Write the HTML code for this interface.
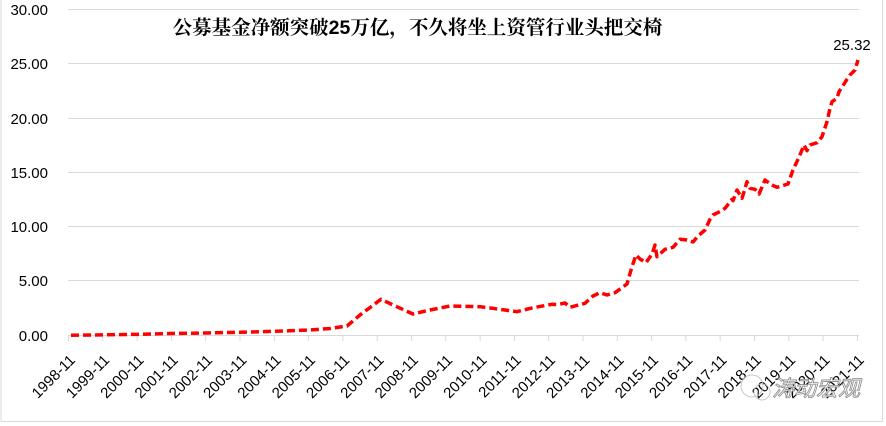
<!DOCTYPE html>
<html><head><meta charset="utf-8"><style>
html,body{margin:0;padding:0;background:#fff;}
svg{display:block;}
</style></head><body>
<svg width="886" height="426" viewBox="0 0 886 426" xmlns="http://www.w3.org/2000/svg">
<rect x="0" y="0" width="886" height="426" fill="#fff"/>
<!-- border -->
<line x1="1" y1="0" x2="1" y2="421.5" stroke="#d9d9d9" stroke-width="1"/>
<line x1="882.5" y1="0" x2="882.5" y2="421.5" stroke="#d9d9d9" stroke-width="1"/>
<line x1="1" y1="421.5" x2="882.5" y2="421.5" stroke="#d9d9d9" stroke-width="1"/>
<!-- gridlines -->
<g stroke="#d9d9d9" stroke-width="1">
<line x1="68" y1="9.5" x2="859" y2="9.5"/>
<line x1="68" y1="63.5" x2="859" y2="63.5"/>
<line x1="68" y1="118.5" x2="859" y2="118.5"/>
<line x1="68" y1="172.5" x2="859" y2="172.5"/>
<line x1="68" y1="226.5" x2="859" y2="226.5"/>
<line x1="68" y1="280.5" x2="859" y2="280.5"/>
<line x1="68" y1="335.5" x2="859" y2="335.5"/>
</g>
<!-- ticks -->
<g stroke="#d9d9d9" stroke-width="1">
<line x1="68.5" y1="335.5" x2="68.5" y2="341"/>
<line x1="102.8" y1="335.5" x2="102.8" y2="341"/>
<line x1="137.1" y1="335.5" x2="137.1" y2="341"/>
<line x1="171.4" y1="335.5" x2="171.4" y2="341"/>
<line x1="205.7" y1="335.5" x2="205.7" y2="341"/>
<line x1="240" y1="335.5" x2="240" y2="341"/>
<line x1="274.3" y1="335.5" x2="274.3" y2="341"/>
<line x1="308.6" y1="335.5" x2="308.6" y2="341"/>
<line x1="342.9" y1="335.5" x2="342.9" y2="341"/>
<line x1="377.2" y1="335.5" x2="377.2" y2="341"/>
<line x1="411.5" y1="335.5" x2="411.5" y2="341"/>
<line x1="445.8" y1="335.5" x2="445.8" y2="341"/>
<line x1="480.1" y1="335.5" x2="480.1" y2="341"/>
<line x1="514.4" y1="335.5" x2="514.4" y2="341"/>
<line x1="548.7" y1="335.5" x2="548.7" y2="341"/>
<line x1="583" y1="335.5" x2="583" y2="341"/>
<line x1="617.3" y1="335.5" x2="617.3" y2="341"/>
<line x1="651.6" y1="335.5" x2="651.6" y2="341"/>
<line x1="685.9" y1="335.5" x2="685.9" y2="341"/>
<line x1="720.2" y1="335.5" x2="720.2" y2="341"/>
<line x1="754.5" y1="335.5" x2="754.5" y2="341"/>
<line x1="788.8" y1="335.5" x2="788.8" y2="341"/>
<line x1="823.1" y1="335.5" x2="823.1" y2="341"/>
<line x1="857.4" y1="335.5" x2="857.4" y2="341"/>
</g>
<!-- y labels -->
<g font-family="'Liberation Sans', sans-serif" font-size="15" fill="#000" text-anchor="end">
<text x="48" y="15">30.00</text>
<text x="48" y="69">25.00</text>
<text x="48" y="124">20.00</text>
<text x="48" y="178">15.00</text>
<text x="48" y="232">10.00</text>
<text x="48" y="286">5.00</text>
<text x="48" y="341">0.00</text>
</g>
<!-- x labels -->
<g font-family="'Liberation Sans', sans-serif" font-size="15" fill="#000" text-anchor="end">
<text transform="translate(76,361) rotate(-45)">1998-11</text>
<text transform="translate(110.3,361) rotate(-45)">1999-11</text>
<text transform="translate(144.6,361) rotate(-45)">2000-11</text>
<text transform="translate(178.9,361) rotate(-45)">2001-11</text>
<text transform="translate(213.2,361) rotate(-45)">2002-11</text>
<text transform="translate(247.5,361) rotate(-45)">2003-11</text>
<text transform="translate(281.8,361) rotate(-45)">2004-11</text>
<text transform="translate(316.1,361) rotate(-45)">2005-11</text>
<text transform="translate(350.4,361) rotate(-45)">2006-11</text>
<text transform="translate(384.7,361) rotate(-45)">2007-11</text>
<text transform="translate(419,361) rotate(-45)">2008-11</text>
<text transform="translate(453.3,361) rotate(-45)">2009-11</text>
<text transform="translate(487.6,361) rotate(-45)">2010-11</text>
<text transform="translate(521.9,361) rotate(-45)">2011-11</text>
<text transform="translate(556.2,361) rotate(-45)">2012-11</text>
<text transform="translate(590.5,361) rotate(-45)">2013-11</text>
<text transform="translate(624.8,361) rotate(-45)">2014-11</text>
<text transform="translate(659.1,361) rotate(-45)">2015-11</text>
<text transform="translate(693.4,361) rotate(-45)">2016-11</text>
<text transform="translate(727.7,361) rotate(-45)">2017-11</text>
<text transform="translate(762,361) rotate(-45)">2018-11</text>
<text transform="translate(796.3,361) rotate(-45)">2019-11</text>
<text transform="translate(830.6,361) rotate(-45)">2020-11</text>
<text transform="translate(864.9,361) rotate(-45)">2021-11</text>
</g>
<!-- title -->
<text x="417.5" y="34" text-anchor="middle" font-family="'Noto Serif CJK SC',serif" font-weight="bold" font-size="19.5" fill="#000">公募基金净额突破<tspan font-family="'Liberation Sans',sans-serif">25</tspan>万亿，不久将坐上资管行业头把交椅</text>
<!-- series -->
<polyline fill="none" stroke="#ff0000" stroke-width="3.5" stroke-dasharray="8 4" stroke-linejoin="round"
points="71,335.2 100,334.9 140,334.3 170,333.5 205,333 240,332.3 275,331.3 310,330 330,328.5 347,326 360,315 381,299.3 393,305 413,314 430,310 450,306 480,306.7 500,309.3 517,311.7 533,307.7 552,304.3 558,304.5 565,303 570,307.3 585,303.3 593,296 600,292.7 607,295 615,292.7 627,284 632,266.7 636,255 640,259 646,262.7 652,254 655,245 657,256.7 665,249.3 673,247.3 680,239.3 687,240 693,242 698,236 705,230 710,219.3 713,215 720,211.5 725,208.3 732,199.3 733,200.7 737,190 742,198.3 747,181.7 750,188.3 755,189.3 759,194 765,180 772,185 777,187.3 788,184 793,170 799,157.3 804,145 807,150.7 810,145 817,142.7 822,136.7 827,121.7 830,108.3 832,101.7 837,98.3 839,91.7 847,79.3 850,75 855,70 858,60"/>
<!-- data label -->
<text x="852" y="50" text-anchor="middle" font-family="'Liberation Sans', sans-serif" font-size="15" fill="#000">25.32</text>
<!-- watermark -->
<g opacity="0.8">
<circle cx="752" cy="386" r="11" fill="none" stroke="#bbb" stroke-width="1"/>
<circle cx="762" cy="392" r="8" fill="none" stroke="#bbb" stroke-width="1"/>
</g>
<text x="772" y="396" font-family="'Liberation Sans','Noto Sans CJK SC',sans-serif" font-size="22" font-style="italic" fill="#fff" stroke="#888" stroke-width="0.8">涛动宏观</text>
</svg>
</body></html>
